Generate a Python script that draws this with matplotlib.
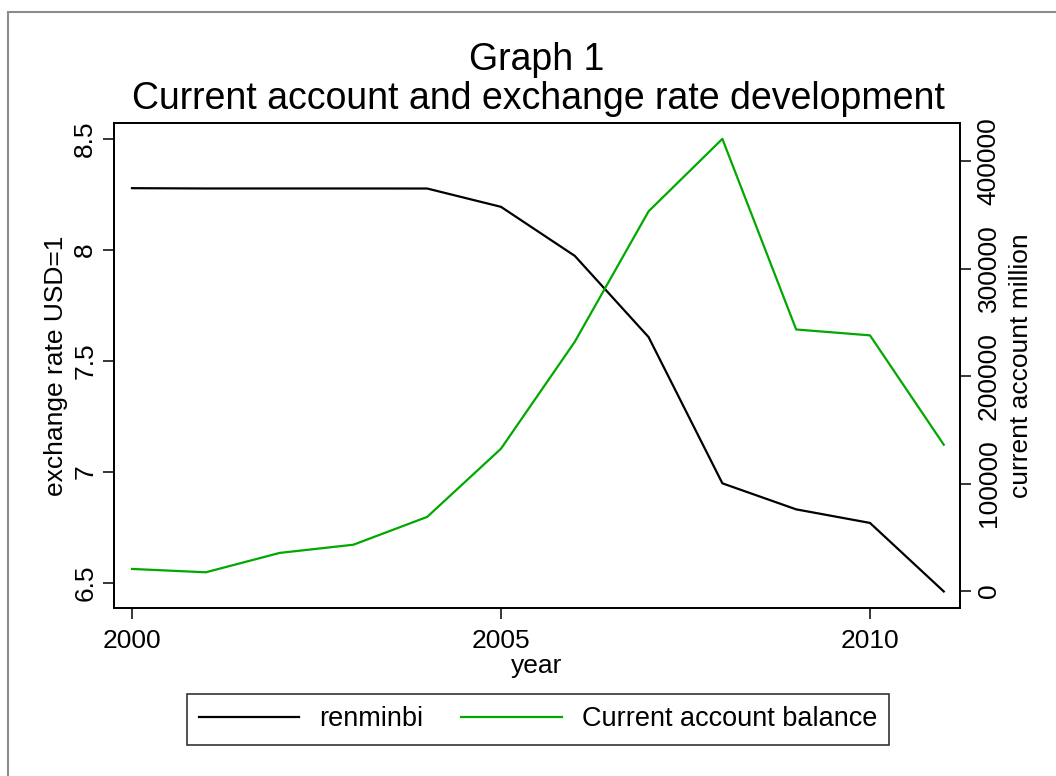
import matplotlib
matplotlib.use("Agg")
import matplotlib.pyplot as plt
from matplotlib.patches import Rectangle
from matplotlib.ticker import FixedLocator, FuncFormatter

plt.rcParams['font.family'] = ['Liberation Sans', 'DejaVu Sans']

years = [2000, 2001, 2002, 2003, 2004, 2005, 2006, 2007, 2008, 2009, 2010, 2011]
renminbi = [8.2784, 8.2770, 8.2770, 8.2770, 8.2768, 8.1943, 7.9734, 7.6075, 6.9487, 6.8314, 6.7703, 6.4615]
current_account = [20518, 17401, 35422, 43052, 68941, 132378, 231843, 353183, 420569, 243257, 237810, 136097]

x_ticks = [2000, 2005, 2010]
left_ticks = [6.5, 7, 7.5, 8, 8.5]
right_ticks = [0, 100000, 200000, 300000, 400000]

W, H = 1056, 776
fig = plt.figure(figsize=(W/100, H/100), dpi=100)
fig.patch.set_facecolor('white')

# outer graph region frame (only left/top visible)
fig.patches.append(Rectangle((8/W, -0.1), 1.2, 1 - 12/H + 0.1, transform=fig.transFigure,
                             fill=False, edgecolor='#8c8c8c', linewidth=1.5))

ax = fig.add_axes([114/W, 1 - 608/H, (960-114)/W, (608-123)/H])
ax2 = ax.twinx()

lw = 1.6
ax.plot(years, renminbi, color='black', linewidth=lw, label='renminbi', zorder=3)
ax2.plot(years, current_account, color='#00a800', linewidth=lw, label='Current account balance', zorder=3)

ax.set_xlim(1999.756, 2011.22)
ax.set_ylim(6.387, 8.572)
ax2.set_ylim(-15814, 435349)

ax.xaxis.set_major_locator(FixedLocator(x_ticks))
ax.yaxis.set_major_locator(FixedLocator(left_ticks))
ax2.yaxis.set_major_locator(FixedLocator(right_ticks))
ax.yaxis.set_major_formatter(FuncFormatter(lambda v, p: f"{v:g}"))
ax2.yaxis.set_major_formatter(FuncFormatter(lambda v, p: f"{int(v)}"))

fs = 19
for a in (ax, ax2):
    for s in a.spines.values():
        s.set_linewidth(1.3)
    a.tick_params(direction='out', length=8, width=1.1, labelsize=fs, pad=4)
ax.tick_params(axis='x', pad=7)

for lab in ax.get_yticklabels():
    lab.set_rotation(90)
    lab.set_va('center')
for lab in ax2.get_yticklabels():
    lab.set_rotation(90)
    lab.set_va('center')

ax.set_xlabel('year', fontsize=fs, labelpad=1)
ax.set_ylabel('exchange rate USD=1', fontsize=fs, labelpad=4)
ax2.set_ylabel('current account million', fontsize=fs, labelpad=6)

fig.text(537/W, 1 - 60/H, 'Graph 1', ha='center', va='center', fontsize=27)
fig.text(538/W, 1 - 99/H, 'Current account and exchange rate development', ha='center', va='center', fontsize=27)

h1, l1 = ax.get_legend_handles_labels()
h2, l2 = ax2.get_legend_handles_labels()
leg = fig.legend(h1 + h2, l1 + l2, loc='center', bbox_to_anchor=(538/W, 1 - 719.5/H),
                 ncol=2, fontsize=19.5, frameon=True, fancybox=False, edgecolor='black',
                 handlelength=3.7, columnspacing=1.4, handletextpad=0.75,
                 borderpad=0.45, borderaxespad=0)
leg.get_frame().set_linewidth(1.2)

fig.savefig('out.png', dpi=100, facecolor='white')
